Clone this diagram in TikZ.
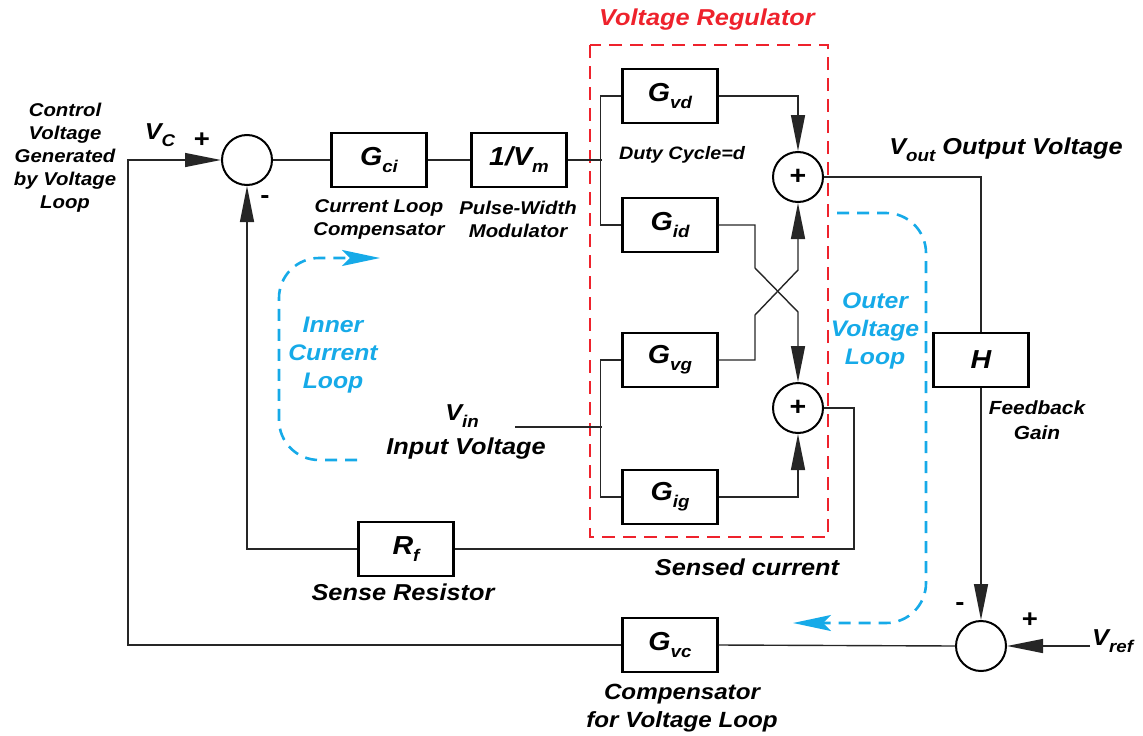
\documentclass[tikz,border=0pt]{standalone}
\usepackage{fontspec}
\setmainfont{Liberation Sans}[FakeStretch=1.1]
\usetikzlibrary{arrows.meta,positioning,calc}
\definecolor{regred}{RGB}{238,34,44}
\definecolor{loopblue}{RGB}{22,170,232}
\tikzset{
  blk/.style={draw=black,line width=2.2pt,minimum width=95pt,minimum height=54pt,inner sep=0pt,
    font=\fontsize{26}{28}\selectfont\bfseries\itshape},          % transfer block
  sumj/.style={circle,draw=black,line width=2pt,minimum size=50pt,inner sep=0pt,
    font=\fontsize{26}{26}\selectfont\bfseries},                  % summing junction
  wire/.style={line width=1.4pt,draw=black!85},
  sig/.style={wire,-{Triangle[length=36pt,width=14pt]}},
  lbl/.style={font=\fontsize{18.5}{23}\selectfont\bfseries\itshape,align=center,inner sep=0pt},
  biglbl/.style={lbl,font=\fontsize{23}{28}\selectfont\bfseries\itshape},
  sgn/.style={font=\fontsize{25}{25}\selectfont\bfseries,inner sep=0pt},
  looplbl/.style={lbl,text=loopblue,font=\fontsize{22.5}{28}\selectfont\bfseries\itshape},
  loopdash/.style={loopblue,line width=2.6pt,dash pattern=on 12pt off 8pt,rounded corners=40pt,
    -{Stealth[length=38pt,width=16pt,inset=8pt]}},
  regbox/.style={regred,line width=2.6pt,dash pattern=on 13pt off 8pt},
}
\newcommand{\lowsub}[1]{\raisebox{-7pt}{\fontsize{17}{17}\selectfont #1}}

\begin{document}
\begin{tikzpicture}[x=1pt,y=-1pt]
  \useasboundingbox (0,0) rectangle (1143,736);
  % voltage regulator frame
  \draw[regbox] (590,45) rectangle (828,537);
  \node[biglbl,text=regred] (vrtitle) at (707,20) {Voltage Regulator};
  % junctions
  \node[sumj] (s1) at (247,160) {};
  \node[sumj] (s2) at (798,177) {+};
  \node[sumj] (s3) at (798,408) {+};
  \node[sumj] (s4) at (981,646) {};
  % blocks
  \node[blk] (gci) at (379,160) {G\lowsub{ci}};
  \node[blk] (pwm) at (519,160) {1/V\lowsub{m}};
  \node[blk] (gvd) at (670,96) {G\lowsub{vd}};
  \node[blk] (gid) at (670,225) {G\lowsub{id}};
  \node[blk] (gvg) at (670,360) {G\lowsub{vg}};
  \node[blk] (gig) at (670,497) {G\lowsub{ig}};
  \node[blk] (hgain) at (981,360) {H};
  \node[blk] (rf) at (406,549) {R\lowsub{f}};
  \node[blk] (gvc) at (670,645) {G\lowsub{vc}};
  \coordinate (vcorner) at (128,645);
  \coordinate (dsplit) at (602,160);
  \coordinate (vin) at (515,427);
  \coordinate (vinsplit) at (602,427);
  \coordinate (vref) at (1090,646);
  % connectors
  \draw[sig] (gvc.west) -- (vcorner) |- (s1.west);
  \draw[wire] (s1) -- (gci);
  \draw[wire] (gci) -- (pwm);
  \draw[wire] (pwm.east) -- (dsplit);
  \draw[wire] (gvd.west) -- ++(-21,0) |- (gid.west);
  \draw[wire] (gvg.west) -- ++(-21,0) |- (gig.west);
  \draw[wire] (vin) -- (vinsplit);
  \draw[sig] (gvd.east) -| (s2.north);
  \draw[sig] (gid.east) -| (755,268) -- (798,312) -- (s3.north);
  \draw[sig] (gvg.east) -| (755,315) -- (798,270) -- (s2.south);
  \draw[sig] (gig.east) -| (s3.south);
  \draw[wire] (s3.east) -| (854,549) -- (rf.east);
  \draw[sig] (rf.west) -| (s1.south);
  \draw[wire] (s2.east) -| (hgain.north);
  \draw[sig] (hgain.south) -- (s4.north);
  \draw[wire] (s4.west) -- (gvc.east);
  \draw[sig] (vref) -- (s4.east);
  % signs and labels
  \node[sgn] (p1) at (202,140) {+};
  \node[sgn] (m1) at (265,200) {-};
  \node[sgn] (m4) at (960,607) {-};
  \node[sgn] (p4) at (1030,620) {+};
  \node[biglbl] (vclbl) at (160,135) {V\lowsub{C}};
  \node[lbl] (ctrl) at (65,158) {Control\\Voltage\\Generated\\by Voltage\\Loop};
  \node[lbl] (gcilbl) at (379,219) {Current Loop\\Compensator};
  \node[lbl] (pwmlbl) at (518,219) {Pulse-Width\\Modulator};
  \node[lbl,font=\fontsize{18}{20}\selectfont\bfseries\itshape] (duty) at (682,155) {Duty Cycle=d};
  \node[biglbl] (vinlbl) at (462,416) {V\lowsub{in}};
  \node[biglbl] (inlbl) at (466,449) {Input Voltage};
  \node[biglbl] (voutlbl) at (1006,150) {V\lowsub{out} Output Voltage};
  \node[lbl,font=\fontsize{19}{25}\selectfont\bfseries\itshape] (fblbl) at (1037,420) {Feedback\\Gain};
  \node[biglbl] (rflbl) at (403,592) {Sense Resistor};
  \node[biglbl] (senselbl) at (747,567) {Sensed current};
  \node[lbl,font=\fontsize{22}{28}\selectfont\bfseries\itshape] (gvclbl) at (682,708) {Compensator\\for Voltage Loop};
  \node[biglbl,anchor=west] (vreflbl) at (1092,641) {V\lowsub{ref}};
  % loop paths
  \draw[loopdash] (357,460) -- (279,460) -- (279,258) -- (380,258);
  \draw[loopdash] (837,213) -- (926,213) -- (926,623) -- (793,623);
  \node[looplbl] (inner) at (333,355) {Inner\\Current\\Loop};
  \node[looplbl] (outer) at (875,331) {Outer\\Voltage\\Loop};
\end{tikzpicture}
\end{document}
